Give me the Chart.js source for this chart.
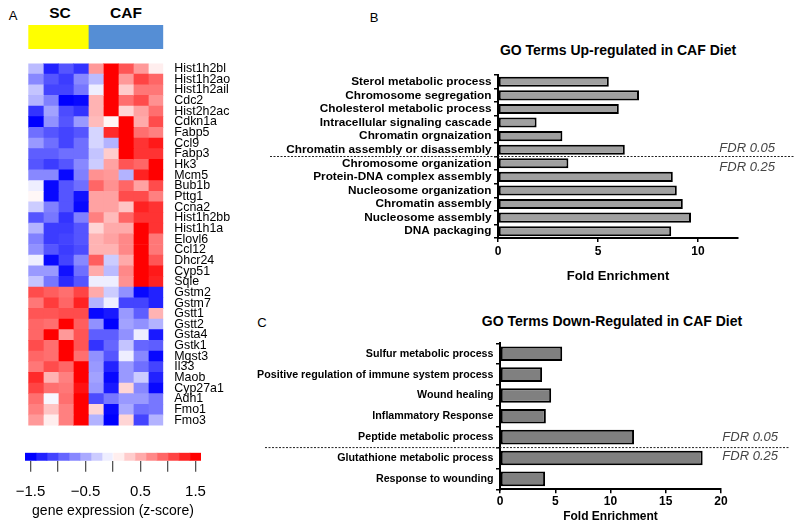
<!DOCTYPE html>
<html><head><meta charset="utf-8">
<script src="https://cdn.jsdelivr.net/npm/chart.js@4.4.1/dist/chart.umd.min.js"></script>
<style>
body{margin:0;width:800px;height:531px;background:#fff;position:relative;overflow:hidden;font-family:Arial,"Liberation Sans",sans-serif;}
canvas{position:absolute;}
.t{position:absolute;white-space:nowrap;color:#000;line-height:1;transform:translate(-50%,-50%);}
</style></head><body>
<div class="t" style="left:13px;top:15px;font-size:13px">A</div>
<div class="t" style="left:60px;top:13px;font-size:15.5px;font-weight:bold">SC</div>
<div class="t" style="left:126px;top:13px;font-size:15.5px;font-weight:bold">CAF</div>
<div class="t" style="left:374px;top:17px;font-size:13px">B</div>
<div class="t" style="left:262px;top:322px;font-size:13px">C</div>
<div class="t" style="left:618px;top:50px;font-size:14px;font-weight:bold">GO Terms Up-regulated in CAF Diet</div>
<div class="t" style="left:612px;top:321px;font-size:14px;font-weight:bold">GO Terms Down-Regulated in CAF Diet</div>

<canvas id="grp" width="240" height="24" style="left:0;top:25px"></canvas>
<canvas id="heat" width="240" height="383" style="left:0;top:53px"></canvas>
<canvas id="cbar" width="240" height="86" style="left:0;top:445px"></canvas>
<canvas id="upc" width="560" height="290" style="left:240px;top:0"></canvas>
<canvas id="downc" width="560" height="231" style="left:240px;top:300px"></canvas>
<script>
const FONT = 'Arial, "Liberation Sans", sans-serif';

// ---------- Panel A data ----------
const genes = ['Hist1h2bl','Hist1h2ao','Hist1h2ail','Cdc2','Hist2h2ac','Cdkn1a','Fabp5','Ccl9','Fabp3','Hk3','Mcm5','Bub1b','Pttg1','Ccna2','Hist1h2bb','Hist1h1a','Elovl6','Ccl12','Dhcr24','Cyp51','Sqle','Gstm2','Gstm7','Gstt1','Gstt2','Gsta4','Gstk1','Mgst3','Il33','Maob','Cyp27a1','Adh1','Fmo1','Fmo3'];
const samples = ['SC1','SC2','SC3','SC4','CAF1','CAF2','CAF3','CAF4','CAF5'];
const groups = ['SC','CAF'];
const groupSizes = [4, 5];
// z-scores: one row per gene, columns = samples
const zScores = [
[-0.4,-1.3,-1.0,-1.2, 0.6,1.5,1.0,0.6,0.1],
[-0.7,-1.0,-1.15,-0.7, -0.4,1.5,0.6,1.1,0.9],
[-0.35,-1.1,-1.1,-0.8, -0.1,1.5,0.3,0.8,0.8],
[-0.45,-0.75,-1.5,-1.45, 0.45,1.5,0.85,1.05,0.65],
[-1.2,-0.55,-1.05,-1.2, 0.45,1.5,0.25,0.55,0.85],
[-1.5,-0.65,-1.0,-0.6, 0.4,0.05,1.5,0.5,1.05],
[-0.85,-1.0,-1.1,-1.0, -0.25,1.25,1.5,0.85,0.75],
[-0.6,-0.85,-1.1,-0.85, -0.25,-0.45,1.5,1.2,1.35],
[-0.95,-0.95,-0.85,-0.85, -0.35,0.3,1.5,1.2,1.2],
[-1.0,-1.15,-1.0,-0.7, -0.3,0.55,1.0,0.9,1.5],
[-0.7,-0.7,-1.45,-0.75, 0.65,0.6,-0.45,1.3,1.5],
[-0.1,-1.45,-1.0,-0.85, 0.9,0.65,0.9,0.55,1.05],
[0.05,-1.45,-1.0,-1.4, 0.55,0.55,1.05,1.05,0.75],
[-0.3,-0.75,-1.0,-1.45, 0.55,0.55,0.35,1.3,1.2],
[-1.0,-0.8,-1.2,-0.75, 0.75,0.4,0.9,1.2,1.2],
[-0.45,-1.15,-1.15,-1.0, 0.25,0.5,0.5,1.5,1.2],
[-0.75,-1.15,-1.1,-1.0, 0.45,0.55,0.7,1.5,0.8],
[-0.65,-1.0,-1.15,-1.05, 0.45,0.45,0.7,1.5,0.8],
[-0.1,-1.45,-1.1,-0.7, 0.95,-0.3,0.5,1.5,1.0],
[-0.6,-0.6,-1.4,-0.85, 0.5,-0.4,0.7,1.5,1.35],
[-0.35,-0.8,-1.25,-1.0, -0.1,-0.1,0.65,1.5,1.3],
[1.05,0.95,0.85,1.1, 0.5,-0.3,-0.65,-1.45,-1.3],
[0.8,1.15,0.9,1.3, -0.45,-0.1,-1.1,-1.1,-1.3],
[1.0,1.0,1.05,1.05, -1.45,-1.35,-0.6,-0.95,0.45],
[0.9,0.85,1.5,0.95, -0.65,-1.5,-0.55,-0.65,-0.45],
[0.9,1.5,0.6,1.0, -0.95,-0.95,-0.65,-0.1,-1.35],
[1.05,0.85,1.5,1.0, -1.2,-0.9,-0.35,-0.9,-0.95],
[0.9,0.85,1.5,0.85, -0.65,-1.0,-0.1,-0.7,-1.45],
[0.8,1.05,0.9,1.5, -0.6,-1.3,-0.6,-0.85,-1.1],
[1.25,0.45,0.75,1.5, -0.55,-1.45,-0.6,-0.3,-1.3],
[1.1,0.85,0.8,1.4, -0.6,-1.35,0.25,-0.7,-1.45],
[0.85,-0.05,0.85,1.5, -1.05,-0.8,-0.6,-0.6,-0.8],
[0.75,0.35,0.75,1.5, 0.25,-1.45,-0.5,-0.85,-0.8],
[0.6,0.1,0.75,1.5, -0.45,-1.5,0.25,-1.1,-0.45]
];
const colorbarTicks = [-1.5,-1,-0.5,0,0.5,1,1.5];
const colorbarLabels = ['\u22121.5','','\u22120.5','','0.5','','1.5'];

// ---------- Panel B data ----------
const upTerms = ['Sterol metabolic process','Chromosome segregation','Cholesterol metabolic process','Intracellular signaling cascade','Chromatin orgnaization','Chromatin assembly or disassembly','Chromosome organization','Protein-DNA complex assembly','Nucleosome organization','Chromatin assembly','Nucleosome assembly','DNA packaging'];
const upFold = [5.54,7.05,6.04,1.93,3.22,6.34,3.52,8.74,8.94,9.24,9.65,8.66];
const upTicks = [0,5,10];

// ---------- Panel C data ----------
const downTerms = ['Sulfur metabolic process','Positive regulation of immune system process','Wound healing','Inflammatory Response','Peptide metabolic process','Glutathione metabolic process','Response to wounding'];
const downFold = [5.63,3.81,4.63,4.15,12.13,18.34,4.08];
const downTicks = [0,5,10,15,20];

const fdrLabels = ['FDR 0.05','FDR 0.25'];

function zColor(z){
  const t = Math.min(1, Math.abs(z)/1.5);
  const c = Math.round(255*(1-t));
  return z < 0 ? `rgb(${c},${c},255)` : `rgb(255,${c},${c})`;
}
const noPlug = {legend:{display:false}, tooltip:{enabled:false}};
const base = {responsive:false, animation:false, devicePixelRatio:1};

// group colour bar
new Chart(document.getElementById('grp'), {
  type:'bar',
  data:{labels:['group'], datasets: groups.map((g,i)=>({label:g, data:[groupSizes[i]], backgroundColor: i===0?'#ffff00':'#558ed5', borderWidth:0, barPercentage:1, categoryPercentage:1}))},
  options:{...base, indexAxis:'y', layout:{padding:{left:28.3, right:76.7, top:0, bottom:0}},
    scales:{x:{stacked:true, display:false, min:0, max:samples.length}, y:{stacked:true, display:false}},
    plugins:noPlug}
});

// heatmap
new Chart(document.getElementById('heat'), {
  type:'bar',
  data:{labels:genes, datasets: samples.map((s,j)=>({label:s, data:genes.map(()=>1), backgroundColor: zScores.map(r=>zColor(r[j])), borderWidth:0, barPercentage:1, categoryPercentage:1}))},
  options:{...base, indexAxis:'y', layout:{padding:{left:28.3, right:0, top:0, bottom:0}},
    scales:{
      x:{stacked:true, display:false, min:0, max:samples.length},
      y:{stacked:true, position:'right', grid:{display:false}, border:{display:false},
         ticks:{autoSkip:false, padding:3, color:'#000', font:{family:FONT, size:12.4}},
         afterFit(s){ s.width = 76.7; }}
    },
    plugins:noPlug}
});

// colour legend
const cbMin = -1.6, cbMax = 1.6, cbSteps = 16;
const cbSegs = [];
for (let i=0;i<cbSteps;i++){ const lo = cbMin + (cbMax-cbMin)*i/cbSteps, hi = cbMin + (cbMax-cbMin)*(i+1)/cbSteps; cbSegs.push([lo,hi]); }
new Chart(document.getElementById('cbar'), {
  type:'bar',
  data:{labels:['z'], datasets: cbSegs.map(s=>({data:[s], backgroundColor: zColor((s[0]+s[1])/2), borderWidth:0, barPercentage:1, categoryPercentage:1, grouped:false}))},
  options:{...base, indexAxis:'y', layout:{padding:{left:25, right:39, top:7.7, bottom:0}},
    scales:{
      x:{type:'linear', min:cbMin, max:cbMax,
         afterBuildTicks(s){ s.ticks = colorbarTicks.map(v=>({value:v})); },
         grid:{drawOnChartArea:false, drawTicks:true, tickLength:11, color:'#555', lineWidth:1.3},
         border:{display:false},
         ticks:{padding:11, color:'#000', font:{family:FONT, size:15}, maxRotation:0, autoSkip:false,
           callback(v, i){ return colorbarLabels[colorbarTicks.indexOf(v)] ?? ''; }},
         title:{display:true, text:'gene expression (z-score)', color:'#000', font:{family:FONT, size:14}, padding:{top:0,bottom:11}},
         afterFit(s){ s.height = 70.3; }},
      y:{display:false}
    },
    plugins:noPlug}
});

// FDR divider plugin
const fdrPlugin = {
  id:'fdr',
  afterDatasetsDraw(chart, args, o){
    const y = chart.scales.y, ctx = chart.ctx;
    const py = (y.getPixelForValue(o.split-1) + y.getPixelForValue(o.split))/2;
    ctx.save();
    ctx.setLineDash([2,1.5]); ctx.strokeStyle = '#222'; ctx.lineWidth = 1;
    ctx.beginPath(); ctx.moveTo(o.x0, py); ctx.lineTo(o.x1, py); ctx.stroke();
    ctx.setLineDash([]);
    ctx.font = 'italic 13px ' + FONT; ctx.fillStyle = '#444'; ctx.textAlign = 'right'; ctx.textBaseline = 'middle';
    ctx.fillText(fdrLabels[0], o.tx, py + o.dUp);
    ctx.fillText(fdrLabels[1], o.tx, py + o.dDown);
    ctx.restore();
  }
};

function barChart(id, terms, vals, ticks, max, fill, cfg){
  return new Chart(document.getElementById(id), {
    type:'bar',
    data:{labels:terms, datasets:[{data:vals, backgroundColor:fill, borderColor:'#000', borderWidth:2, borderSkipped:false, barPercentage:cfg.barPct, categoryPercentage:1}]},
    options:{...base, indexAxis:'y', layout:{padding:{left:0, right:cfg.padR, top:cfg.padT, bottom:0}},
      scales:{
        x:{type:'linear', min:0, max:max,
           afterBuildTicks(s){ s.ticks = ticks.map(v=>({value:v})); },
           grid:{drawOnChartArea:false, drawTicks:true, tickLength:4, color:'#000', lineWidth:1.5},
           border:{display:true, color:'#000', width:2},
           ticks:{padding:cfg.xPad, color:'#000', font:{family:FONT, size:12, weight:'bold'}, maxRotation:0},
           title:{display:true, text:'Fold Enrichment', color:'#000', font:{family:FONT, size:cfg.titleSize, weight:'bold'}, padding:{top:0,bottom:cfg.titlePadB}},
           afterFit(s){ s.height = cfg.xH; }},
        y:{grid:{drawOnChartArea:false, drawTicks:true, tickLength:4, color:'#000', lineWidth:1.5},
           border:{display:true, color:'#000', width:2},
           ticks:{autoSkip:false, padding:2.5, color:'#000', font:{family:FONT, size:cfg.labelSize, weight:'bold'}},
           afterFit(s){ s.width = cfg.yW; }}
      },
      plugins:{...noPlug, fdr:cfg.fdr}},
    plugins:[fdrPlugin]
  });
}

barChart('upc', upTerms, upFold, upTicks, 12, '#a0a0a0',
  {barPct:0.74, padR:62, padT:75, xPad:2.2, titleSize:13, titlePadB:5.5, xH:52, yW:258, labelSize:11.8,
   fdr:{split:6, x0:30, x1:555, tx:535, dUp:-7.7, dDown:11}});
barChart('downc', downTerms, downFold, downTicks, 20, '#808080',
  {barPct:0.7, padR:79, padT:43.3, xPad:1.2, titleSize:12, titlePadB:6.8, xH:41.7, yW:260, labelSize:10.7,
   fdr:{split:5, x0:25, x1:550, tx:538, dUp:-10.5, dDown:8.5}});
</script>
</body></html>
